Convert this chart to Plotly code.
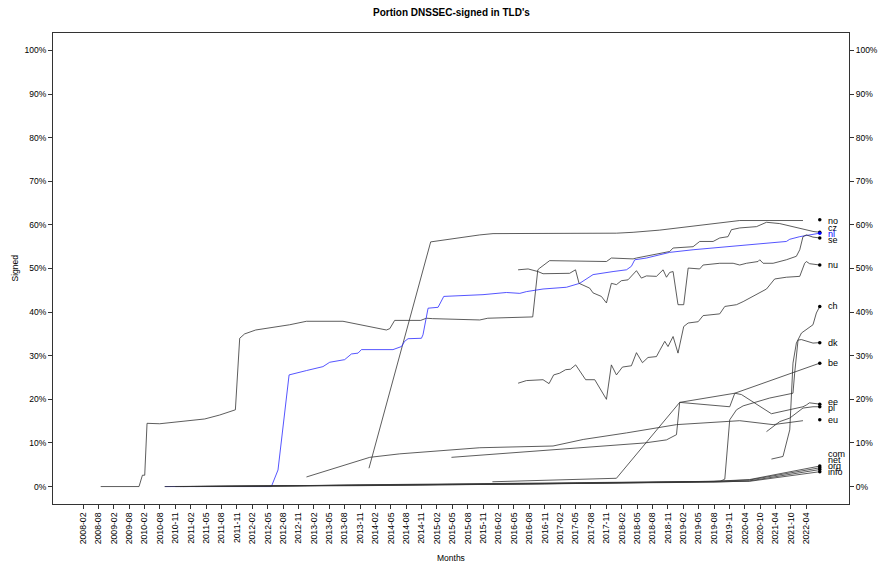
import plotly.graph_objects as go

# ---- tick labels (x axis positions 0..47) ----
months = ["2008-02","2008-08","2009-02","2009-08","2010-02","2010-08","2010-11","2011-02",
          "2011-05","2011-08","2011-11","2012-02","2012-05","2012-08","2012-11","2013-02",
          "2013-05","2013-08","2013-11","2014-02","2014-05","2014-08","2014-11","2015-02",
          "2015-05","2015-08","2015-11","2016-02","2016-05","2016-08","2016-11","2017-02",
          "2017-05","2017-08","2017-11","2018-02","2018-05","2018-08","2018-11","2019-02",
          "2019-05","2019-08","2019-11","2020-04","2020-10","2021-04","2021-10","2022-04"]
pct_ticks = [0, 10, 20, 30, 40, 50, 60, 70, 80, 90, 100]

# ---- series: t = position in month-label units, v = percent signed ----
cz_t = [1.15,3.64,3.86,4.01,4.16,4.98,7.91,8.88,9.90,10.18,10.50,11.22,13.43,14.52,16.89,18.11,
        19.71,19.93,20.25,21.94,22.31,22.72,25.78,26.30,29.22,29.55,29.68,30.32,34.01,34.33,35.74,
        35.96,37.47,38.12,38.34,39.64,40.07,40.94,41.37,41.91,42.13,42.67,43.76,44.41,45.27,46.13,
        46.78,47.43,47.87]
cz_v = [0.0,0.0,2.6,2.6,14.5,14.4,15.5,16.4,17.6,34.0,35.0,35.9,37.1,37.9,37.9,37.1,
        35.9,36.2,38.1,38.1,38.6,38.5,38.2,38.6,38.9,49.7,50.1,51.8,51.6,52.4,52.2,
        52.4,53.5,53.9,54.7,55.0,56.2,56.2,57.0,57.3,58.9,59.3,59.6,60.6,60.3,59.6,
        59.0,58.5,58.3]

no_t = [18.58,22.59,25.78,26.64,34.66,35.74,37.47,42.67,46.78]
no_v = [4.2,56.1,57.7,58.0,58.1,58.3,58.8,61.0,61.0]

nl_t = [5.33,12.24,12.67,13.39,14.52,15.59,16.03,17.00,17.44,17.87,18.09,20.14,20.69,20.90,21.12,
        21.99,22.09,22.42,23.07,23.44,25.99,27.51,28.38,28.81,29.89,31.41,32.27,33.14,34.44,35.31,
        35.63,35.85,36.61,37.47,38.12,39.64,41.81,43.97,45.70,45.92,46.57,47.87]
nl_v = [0.0,0.0,3.8,25.6,26.6,27.5,28.5,29.1,30.4,30.6,31.4,31.4,32.1,33.3,33.9,
        34.0,34.8,40.9,41.1,43.6,44.0,44.5,44.3,44.7,45.3,45.7,46.6,48.6,49.3,49.7,
        50.5,52.0,52.4,53.1,53.7,54.3,55.0,55.8,56.2,56.7,57.3,58.1]

se_t = [28.27,28.92,29.56,29.89,31.62,32.00,32.23,32.92,33.14,33.68,34.01,34.22,34.33,34.66,34.98,
        35.41,35.96,36.28,36.61,37.26,37.69,37.91,38.12,38.34,38.66,39.03,39.32,40.07,40.29,41.37,
        42.24,42.67,43.11,43.86,43.97,44.19,44.84,45.70,46.35,46.57,46.78,47.00,47.43,47.87]
se_v = [49.7,49.9,49.3,48.8,48.9,49.7,46.6,45.5,44.4,43.6,42.1,45.1,46.6,46.3,47.2,
        47.4,49.5,47.8,48.3,48.2,49.7,48.0,49.1,49.3,41.7,41.7,50.1,49.9,50.8,51.2,
        51.2,50.8,51.2,51.6,52.0,51.2,51.2,52.0,52.8,54.3,57.3,57.7,57.2,57.0]

nu_t = [28.27,28.81,29.89,30.28,30.58,30.97,31.36,31.67,32.01,32.66,33.25,34.01,34.33,34.66,35.05,
        35.63,35.96,36.35,36.71,37.26,37.47,37.80,38.01,38.34,38.66,39.03,39.32,39.97,40.29,41.37,
        41.70,42.46,42.89,43.32,43.97,44.41,44.94,45.70,46.57,46.89,47.00,47.21,47.87]
nu_v = [23.7,24.3,24.5,23.6,25.6,26.0,26.8,26.9,27.9,24.5,24.5,20.0,27.9,25.6,27.4,
        27.7,30.7,28.4,29.6,29.8,31.2,33.3,32.1,34.4,30.6,36.7,37.5,37.8,39.2,39.6,
        41.3,41.7,42.4,43.2,44.4,45.3,47.6,48.0,48.2,51.2,51.6,51.1,50.8]

ch_t = [44.73,45.48,45.92,46.13,46.35,46.68,47.43,47.65,47.87]
ch_v = [6.3,6.9,13.0,28.3,32.9,35.2,37.1,39.8,41.3]

dk_t = [6.5,20.0,30.0,38.0,41.40,41.70,42.02,42.46,42.89,44.62,46.03,46.13,46.24,46.35,46.46,46.68,
        47.11,47.43,47.87]
dk_v = [0.0,0.3,0.6,1.0,1.2,1.7,15.3,17.6,18.5,20.3,21.3,21.4,26.0,30.6,33.6,33.7,
        33.3,32.9,33.0]

be_t = [23.94,30.76,36.50,37.91,38.56,38.77,40.51,42.35,47.87]
be_v = [6.7,8.4,10.0,10.7,11.9,19.3,20.3,21.4,28.3]

ee_t = [26.60,30.30,34.66,38.77,42.02,42.35,42.78,44.73,46.78,47.00,47.20,47.87]
ee_v = [1.1,1.5,1.9,19.3,18.3,21.4,21.1,16.7,18.3,18.7,19.2,18.9]

pl_t = [44.41,45.27,45.92,46.78,47.43,47.87]
pl_v = [12.6,14.9,15.7,18.0,18.3,18.3]

eu_t = [14.52,18.63,20.58,25.78,30.54,32.50,35.31,38.56,42.67,44.84,46.78]
eu_v = [2.2,6.7,7.5,8.9,9.3,10.8,12.3,14.2,15.1,14.2,15.1]

com_t = [7.3,12.0,18.0,24.0,30.0,36.0,41.0,43.3,47.87]
com_v = [0.0,0.1,0.3,0.5,0.7,0.9,1.2,1.6,4.7]
net_t = [6.3,12.0,18.0,24.0,30.0,36.0,41.0,43.3,47.87]
net_v = [0.0,0.1,0.4,0.6,0.8,1.0,1.2,1.5,4.3]
org_t = [5.3,12.0,18.0,24.0,30.0,36.0,41.0,43.3,47.87]
org_v = [0.0,0.1,0.3,0.5,0.7,0.8,1.0,1.3,3.9]
info_t = [6.0,12.0,18.0,24.0,30.0,36.0,41.0,43.3,47.87]
info_v = [0.0,0.05,0.2,0.4,0.6,0.8,1.0,1.2,3.4]

tld_names = ["no","cz","nl","se","nu","ch","dk","be","ee","pl","eu","com","net","org","info"]
final_v = [61.2,58.3,58.1,57.0,50.8,41.3,33.0,28.3,18.9,18.3,15.3,4.7,4.3,3.9,3.4]

series = {"no": (no_t, no_v), "cz": (cz_t, cz_v), "nl": (nl_t, nl_v), "se": (se_t, se_v),
          "nu": (nu_t, nu_v), "ch": (ch_t, ch_v), "dk": (dk_t, dk_v), "be": (be_t, be_v),
          "ee": (ee_t, ee_v), "pl": (pl_t, pl_v), "eu": (eu_t, eu_v), "com": (com_t, com_v),
          "net": (net_t, net_v), "org": (org_t, org_v), "info": (info_t, info_v)}

# ---- styling ----
FONT = "Liberation Sans, Arial, Helvetica, sans-serif"
colors = {n: "#333333" for n in tld_names}
colors["nl"] = "#2a2aff"
label_shift = {"no": -0.3, "cz": 1.1, "nl": -0.1, "se": -0.4, "ee": 0.5, "pl": -0.3,
               "com": 2.8, "net": 1.8, "org": 0.9, "info": 0.0}
dot_x = 47.87
label_x = 48.25

# page body has an 8px margin; size the figure so the plot box lands where it should
OFF = 8
W, H = 888 - OFF, 570 - OFF
ML, MT = 53 - OFF, 33 - OFF
plot_w, plot_h = 796, 471
MR, MB = W - ML - plot_w, H - MT - plot_h

def py(p):      # page pixel y -> paper y
    return ((MT + plot_h) - (p - OFF)) / plot_h

def px(p):      # page pixel x -> paper x
    return ((p - OFF) - ML) / plot_w

fig = go.Figure()
for n in tld_names:
    t, v = series[n]
    fig.add_trace(go.Scatter(x=t, y=v, mode="lines", line=dict(color=colors[n], width=0.8),
                             hoverinfo="skip", showlegend=False))

fig.add_trace(go.Scatter(x=[dot_x] * len(final_v), y=final_v, mode="markers",
                         marker=dict(size=3.5, color=["#0000ff" if n == "nl" else "#000"
                                                      for n in tld_names]),
                         hoverinfo="skip", showlegend=False))
# invisible trace for right axis
fig.add_trace(go.Scatter(x=[dot_x], y=[50], yaxis="y2", mode="markers",
                         marker=dict(opacity=0), hoverinfo="skip", showlegend=False))

annots = []
for n, fv in zip(tld_names, final_v):
    annots.append(dict(x=label_x, y=fv + label_shift.get(n, 0), xref="x", yref="y",
                       text=n, showarrow=False, xanchor="left", yanchor="middle",
                       font=dict(family=FONT, size=9, color="#0000ff" if n == "nl" else "#000")))
annots += [
    dict(text="<b>Portion DNSSEC-signed in TLD's</b>", x=px(451), y=py(12),
         xref="paper", yref="paper", showarrow=False, yanchor="middle",
         font=dict(family=FONT, size=10)),
    dict(text="Months", x=px(451), y=py(558), xref="paper", yref="paper",
         showarrow=False, yanchor="middle", font=dict(family=FONT, size=8.5)),
    dict(text="Signed", x=px(14), y=0.5, xref="paper", yref="paper",
         showarrow=False, textangle=-90, xanchor="center", font=dict(family=FONT, size=8.5)),
]

axis_common = dict(showgrid=False, zeroline=False, ticks="outside", ticklen=4,
                   tickcolor="#333", linecolor="#333", linewidth=1, automargin=False)

fig.update_layout(
    width=W, height=H,
    margin=dict(l=ML, r=MR, t=MT, b=MB, autoexpand=False),
    paper_bgcolor="white", plot_bgcolor="white",
    font=dict(family=FONT, size=8.5, color="#000"),
    xaxis=dict(range=[-1.95, 49.77], tickmode="array", tickvals=list(range(len(months))),
               ticktext=months, tickangle=-90, tickfont=dict(size=8.7),
               showline=True, mirror=True, **axis_common),
    yaxis=dict(range=[-4, 104], tickmode="array", tickvals=pct_ticks,
               ticktext=[f"{p}%" for p in pct_ticks], tickfont=dict(size=8.5),
               showline=True, mirror=True, **axis_common),
    yaxis2=dict(range=[-4, 104], overlaying="y", side="right", tickmode="array",
                tickvals=pct_ticks, ticktext=[f"{p}%" for p in pct_ticks],
                tickfont=dict(size=8.5), showline=False, **axis_common),
    annotations=annots,
)

fig.write_html("out.html")
